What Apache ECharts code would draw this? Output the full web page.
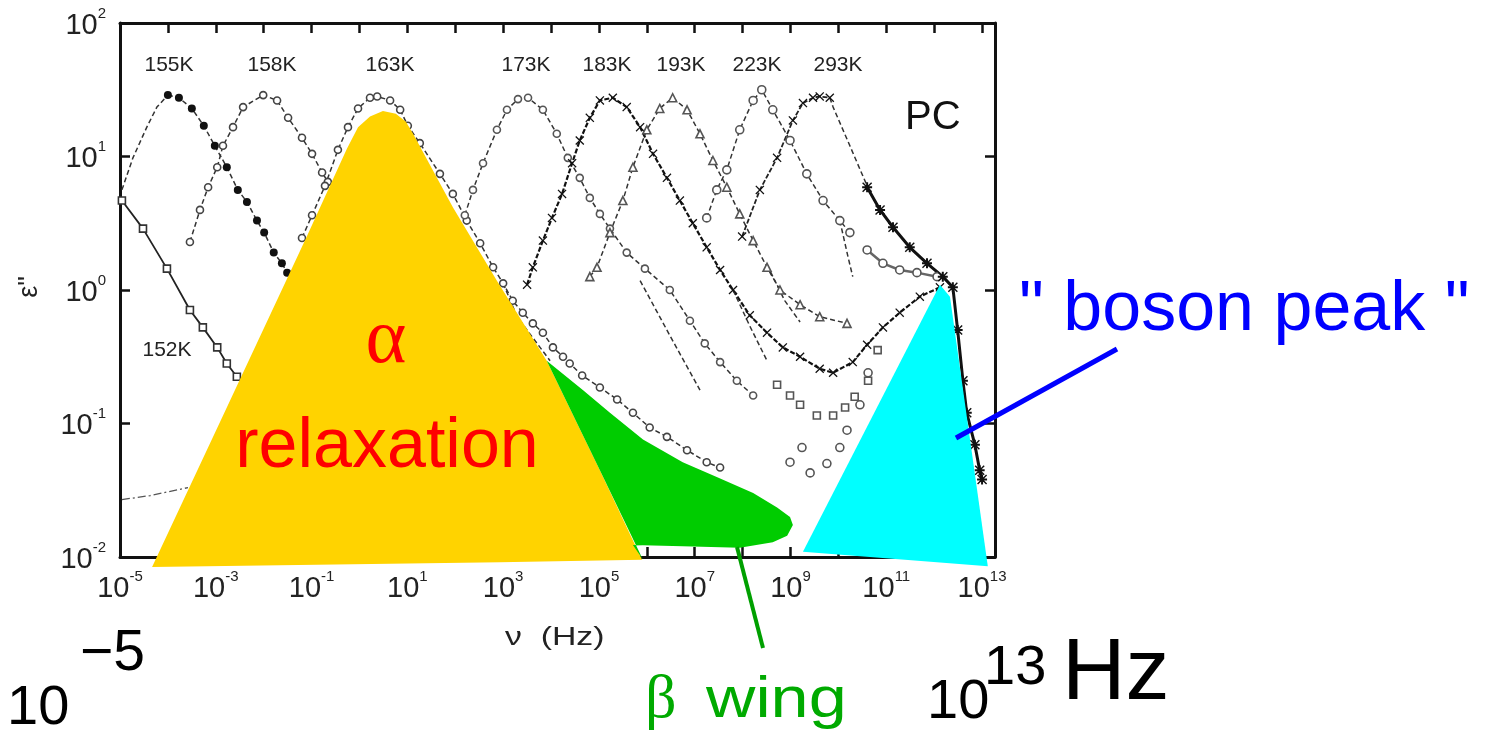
<!DOCTYPE html>
<html><head><meta charset="utf-8">
<script src="https://cdn.jsdelivr.net/npm/echarts@6/dist/echarts.min.js"></script>
<style>html,body{margin:0;padding:0;background:#fff;}#c{width:1487px;height:743px;}</style>
</head><body><div id="c"></div>
<script>
// ---- data: [log10(frequency / Hz), log10(eps'')] ----
const xTickExps = [-5, -3, -1, 1, 3, 5, 7, 9, 11, 13];
const yTickExps = [-2, -1, 0, 1, 2];
const tempLabels = ['155K', '158K', '163K', '173K', '183K', '193K', '223K', '293K'];
const sideLabel = '152K';

const t152 = [[-4.96,0.67],[-4.52,0.46],[-4.02,0.16],[-3.54,-0.15],[-3.27,-0.28],[-2.97,-0.43],[-2.77,-0.55],[-2.56,-0.65]];
const tDashDot = [[-4.96,-1.57],[-4.37,-1.54],[-3.58,-1.48]];
const t155fit = [[-4.96,0.75],[-4.73,0.99],[-4.44,1.22],[-4.23,1.37],[-4.00,1.46]];
const t155 = [[-4.00,1.46],[-3.77,1.44],[-3.50,1.36],[-3.25,1.23],[-3.02,1.08],[-2.77,0.92],[-2.54,0.75],[-2.35,0.66],[-2.14,0.52],[-1.99,0.43],[-1.79,0.28],[-1.62,0.20],[-1.51,0.13]];
const t158 = [[-3.54,0.36],[-3.33,0.60],[-3.16,0.77],[-2.97,0.92],[-2.85,1.08],[-2.64,1.22],[-2.43,1.37],[-2.01,1.46],[-1.72,1.42],[-1.49,1.29],[-1.20,1.14],[-0.99,1.02],[-0.78,0.88],[-0.66,0.81]];
const t163 = [[-1.20,0.39],[-0.99,0.56],[-0.72,0.78],[-0.45,1.05],[-0.24,1.22],[-0.03,1.36],[0.22,1.44],[0.37,1.45],[0.64,1.42],[0.85,1.35],[1.01,1.23],[1.26,1.10],[1.68,0.87],[1.95,0.72],[2.24,0.52],[2.52,0.35],[2.79,0.17],[3.00,0.05],[3.20,-0.08],[3.41,-0.17],[3.62,-0.25],[3.83,-0.32],[4.04,-0.43],[4.25,-0.50],[4.39,-0.55],[4.65,-0.64],[5.02,-0.73],[5.38,-0.82],[5.71,-0.92],[6.06,-1.03],[6.42,-1.10],[6.84,-1.20],[7.25,-1.29],[7.53,-1.33]];
const t163fit = [[3.00,0.05],[3.29,-0.20],[3.98,-0.53]];
const t163ghz = [[8.99,-1.29],[9.24,-1.18],[9.41,-1.37],[9.76,-1.30],[10.03,-1.18],[10.18,-1.05],[10.45,-0.86],[10.62,-0.62]];
const t173 = [[2.20,0.56],[2.37,0.75],[2.58,0.95],[2.87,1.20],[3.08,1.35],[3.31,1.43],[3.52,1.44],[3.83,1.35],[4.12,1.17],[4.35,0.99],[4.60,0.84],[4.81,0.69],[5.02,0.57],[5.23,0.46],[5.58,0.28],[5.96,0.16],[6.48,0.00],[6.90,-0.23],[7.21,-0.40],[7.53,-0.54],[7.88,-0.68],[8.22,-0.79]];
const t173fit = [[5.86,0.07],[6.48,-0.34],[7.11,-0.75]];
const t173ghz = [[8.72,-0.71],[8.99,-0.79],[9.20,-0.86],[9.55,-0.94],[9.89,-0.94],[10.14,-0.88],[10.34,-0.80],[10.62,-0.68],[10.82,-0.45]];
const t183 = [[3.50,0.04],[3.62,0.17],[3.83,0.37],[4.02,0.54],[4.23,0.72],[4.44,0.95],[4.60,1.12],[4.81,1.29],[5.02,1.42],[5.29,1.44],[5.58,1.37],[5.86,1.22],[6.13,1.02],[6.42,0.84],[6.69,0.67],[6.96,0.50],[7.25,0.32],[7.53,0.15],[7.80,0.00],[8.15,-0.19],[8.51,-0.32],[8.84,-0.43],[9.20,-0.50],[9.61,-0.59],[9.89,-0.62],[10.30,-0.54],[10.60,-0.41],[10.93,-0.28],[11.28,-0.17],[11.70,-0.05],[12.12,0.02]];
const t183fit = [[7.80,0.00],[8.15,-0.27],[8.51,-0.53]];
const t193 = [[4.81,0.10],[4.96,0.17],[5.23,0.43],[5.50,0.67],[5.71,0.92],[6.00,1.20],[6.27,1.36],[6.54,1.44],[6.84,1.35],[7.11,1.17],[7.38,0.97],[7.67,0.77],[7.94,0.57],[8.22,0.37],[8.51,0.17],[8.78,0.00],[9.20,-0.11],[9.61,-0.20],[10.18,-0.25]];
const t193fit = [[8.51,0.19],[8.88,-0.08],[9.20,-0.24]];
const t223 = [[7.25,0.54],[7.46,0.75],[7.67,0.90],[7.94,1.20],[8.22,1.42],[8.40,1.50],[8.63,1.35],[8.99,1.12],[9.34,0.87],[9.68,0.67],[10.03,0.52],[10.24,0.43]];
const t223fit = [[10.03,0.52],[10.20,0.25],[10.30,0.10]];
const t223hf = [[10.60,0.30],[10.93,0.20],[11.28,0.15],[11.64,0.13],[12.06,0.10]];
const t293 = [[7.99,0.40],[8.36,0.75],[8.72,0.99],[9.05,1.27],[9.26,1.40],[9.47,1.44],[9.61,1.45],[9.82,1.44]];
const t293fit = [[9.82,1.44],[9.89,1.37],[10.24,1.08],[10.60,0.78]];
const t293hf = [[10.60,0.77],[10.87,0.60],[11.14,0.47],[11.49,0.32],[11.85,0.20],[12.18,0.10],[12.39,0.02],[12.49,-0.30],[12.60,-0.68],[12.68,-0.92],[12.85,-1.16],[12.95,-1.35],[13.00,-1.42]];

// annotation regions, in the same data units
const alphaRegion = [[-4.33,-2.075],[-2.77,-0.88],[-1.10,0.40],[-0.26,1.06],[-0.03,1.22],[0.22,1.30],[0.49,1.34],[0.76,1.32],[0.97,1.26],[1.12,1.17],[1.95,0.62],[2.87,0.07],[3.91,-0.53],[5.02,-1.35],[5.90,-2.02],[2.93,-2.04]];
const betaRegion = [[3.91,-0.53],[4.67,-0.75],[5.23,-0.92],[5.92,-1.12],[6.75,-1.29],[7.46,-1.40],[8.22,-1.52],[8.72,-1.63],[8.99,-1.70],[9.05,-1.76],[8.93,-1.84],[8.63,-1.89],[7.94,-1.93],[6.75,-1.92],[5.71,-1.91],[5.92,-2.02],[5.02,-1.35]];
const bosonRegion = [[12.12,0.04],[12.33,-0.05],[13.12,-2.07],[9.26,-1.96]];

// ---- rendering ----
const SANS = '"Liberation Sans", Arial, Helvetica, sans-serif';
const SERIF = '"Liberation Serif", "Times New Roman", serif';
const chart = echarts.init(document.getElementById('c'));

function isInt(v) { return Math.abs(v - Math.round(v)) < 1e-6; }
function powLabel(list) {
  return function (v) {
    if (!isInt(v)) return '';
    const n = Math.round(v);
    return list.indexOf(n) >= 0 ? '{b|10}{s|' + n + '}' : '';
  };
}
const rich = {
  b: { fontSize: 29, fontFamily: SANS, color: '#222', verticalAlign: 'top', padding: [5, 0, 0, 0] },
  s: { fontSize: 15, fontFamily: SANS, color: '#222', verticalAlign: 'top' }
};
const axisLine = { show: true, onZero: false, lineStyle: { color: '#111', width: 3 } };
const axisTick = { show: true, inside: true, length: 10, lineStyle: { color: '#111', width: 2.5 } };

const xCommon = { type: 'value', min: -5, max: 13.27, interval: 1, splitLine: { show: false }, axisLine: axisLine, axisTick: axisTick };
const yCommon = { type: 'value', min: -2, max: 2, interval: 1, splitLine: { show: false }, axisLine: axisLine, axisTick: axisTick };

const X_PATH = 'path://M0,1L1,0L5,4L9,0L10,1L6,5L10,9L9,10L5,6L1,10L0,9L4,5Z';
const STAR_PATH = 'path://M0,1L1,0L5,4L9,0L10,1L6,5L10,9L9,10L5,6L1,10L0,9L4,5Z M4,0L6,0L6,4L10,4L10,6L6,6L6,10L4,10L4,6L0,6L0,4L4,4Z';

function curve(data, opt) {
  return Object.assign({
    type: 'line', data: data, z: 2, silent: true, symbol: 'none',
    lineStyle: { color: '#333', width: 1.5, type: [5, 3] }
  }, opt);
}
const openItem = (c) => ({ color: '#fff', borderColor: c, borderWidth: 1.6 });

function region(points, color, z) {
  return {
    type: 'custom', coordinateSystem: 'cartesian2d', clip: false, silent: true, z: z,
    data: [[0, 0]],
    renderItem: function (params, api) {
      return { type: 'polygon', shape: { points: points.map(function (p) { return api.coord(p); }) }, style: { fill: color } };
    }
  };
}

const series = [
  curve(t152, { symbol: 'rect', symbolSize: 7, itemStyle: openItem('#333'), lineStyle: { color: '#222', width: 1.8, type: 'solid' } }),
  curve(tDashDot, { lineStyle: { color: '#555', width: 1.3, type: [8, 3, 2, 3] } }),
  curve(t155fit, {}),
  curve(t155, { symbol: 'circle', symbolSize: 8, itemStyle: { color: '#111' } }),
  curve(t158, { symbol: 'circle', symbolSize: 7, itemStyle: openItem('#444') }),
  curve(t163, { symbol: 'circle', symbolSize: 7, itemStyle: openItem('#444') }),
  curve(t163fit, {}),
  curve(t163ghz, { symbol: 'circle', symbolSize: 8, itemStyle: openItem('#555'), lineStyle: { width: 0 } }),
  curve(t173, { symbol: 'circle', symbolSize: 7, itemStyle: openItem('#555') }),
  curve(t173fit, {}),
  curve(t173ghz, { symbol: 'rect', symbolSize: 7, itemStyle: openItem('#555'), lineStyle: { width: 0 } }),
  curve(t183, { symbol: X_PATH, symbolSize: 9, itemStyle: { color: '#111' }, lineStyle: { color: '#111', width: 2.2, type: [5, 2] } }),
  curve(t183fit, {}),
  curve(t193, { symbol: 'triangle', symbolSize: 8, itemStyle: openItem('#555') }),
  curve(t193fit, {}),
  curve(t223, { symbol: 'circle', symbolSize: 8, itemStyle: openItem('#555') }),
  curve(t223fit, {}),
  curve(t223hf, { symbol: 'circle', symbolSize: 8, itemStyle: openItem('#555'), lineStyle: { color: '#666', width: 2.5, type: 'solid' } }),
  curve(t293, { symbol: X_PATH, symbolSize: 9, itemStyle: { color: '#111' }, lineStyle: { color: '#222', width: 1.8, type: [5, 2] } }),
  curve(t293fit, {}),
  curve(t293hf, { symbol: STAR_PATH, symbolSize: 10, itemStyle: { color: '#111' }, lineStyle: { color: '#111', width: 3, type: 'solid' } }),
  region(alphaRegion, '#FFD300', 5),
  region(betaRegion, '#00CC00', 6),
  region(bosonRegion, '#00FFFF', 6)
];

// label layout (pixels)
const tempLabelX = [169, 272, 390, 526, 607, 681, 757, 838];
function txt(text, x, y, font, fill, align, extra) {
  return Object.assign({
    type: 'text', x: x, y: y, z: 100, silent: true,
    style: { text: text, font: font, fill: fill, textAlign: align || 'left', textVerticalAlign: 'middle', align: align || 'left', verticalAlign: 'middle' }
  }, extra || {});
}
const graphics = [];
tempLabels.forEach(function (t, i) { graphics.push(txt(t, tempLabelX[i], 65, '21px ' + SANS, '#222', 'center')); });
graphics.push(txt(sideLabel, 167, 350, '21px ' + SANS, '#222', 'center'));
graphics.push(txt('PC', 905, 118, '40px ' + SANS, '#111', 'left'));
graphics.push(txt('ε"', 30, 287, '27px ' + SANS, '#222', 'center', { rotation: Math.PI / 2 }));
graphics.push(txt('ν  (Hz)', 505, 638, '26px ' + SANS, '#222', 'left', { scaleX: 1.3 }));
graphics.push(txt('α', 386, 342, '78px ' + SERIF, '#FF0000', 'center'));
graphics.push(txt('relaxation', 387, 448, '70px ' + SANS, '#FF0000', 'center'));
graphics.push(txt('β', 645, 701, '62px ' + SERIF, '#00AA00', 'left'));
graphics.push(txt('wing', 706, 701, '57px ' + SANS, '#00AA00', 'left', { scaleX: 1.2 }));
graphics.push(txt('" boson peak "', 1019, 311, '70px ' + SANS, '#0000FF', 'left'));
graphics.push(txt('10', 7, 709, '56px ' + SANS, '#000', 'left'));
graphics.push(txt('\u22125', 80, 654, '57px ' + SANS, '#000', 'left'));
graphics.push(txt('10', 927, 703, '56px ' + SANS, '#000', 'left'));
graphics.push(txt('13', 984, 669, '56px ' + SANS, '#000', 'left'));
graphics.push(txt('Hz', 1062, 675, '88px ' + SANS, '#000', 'left'));
graphics.push({ type: 'line', z: 99, silent: true, shape: { x1: 737, y1: 547, x2: 763, y2: 648 }, style: { stroke: '#00A000', lineWidth: 4 } });
graphics.push({ type: 'line', z: 99, silent: true, shape: { x1: 956, y1: 438, x2: 1117, y2: 349 }, style: { stroke: '#0000FF', lineWidth: 5 } });

chart.setOption({
  animation: false,
  backgroundColor: '#fff',
  grid: { left: 120, top: 23, width: 875, height: 534, outerBoundsMode: 'none' },
  xAxis: [
    Object.assign({}, xCommon, { position: 'bottom', axisLabel: { show: true, margin: 12, formatter: powLabel(xTickExps), rich: rich } }),
    Object.assign({}, xCommon, { position: 'top', axisLabel: { show: false } })
  ],
  yAxis: [
    Object.assign({}, yCommon, { position: 'left', axisLabel: { show: true, margin: 14, formatter: powLabel(yTickExps), rich: rich } }),
    Object.assign({}, yCommon, { position: 'right', axisLabel: { show: false } })
  ],
  series: series,
  graphic: { elements: graphics }
});
</script>
</body></html>
